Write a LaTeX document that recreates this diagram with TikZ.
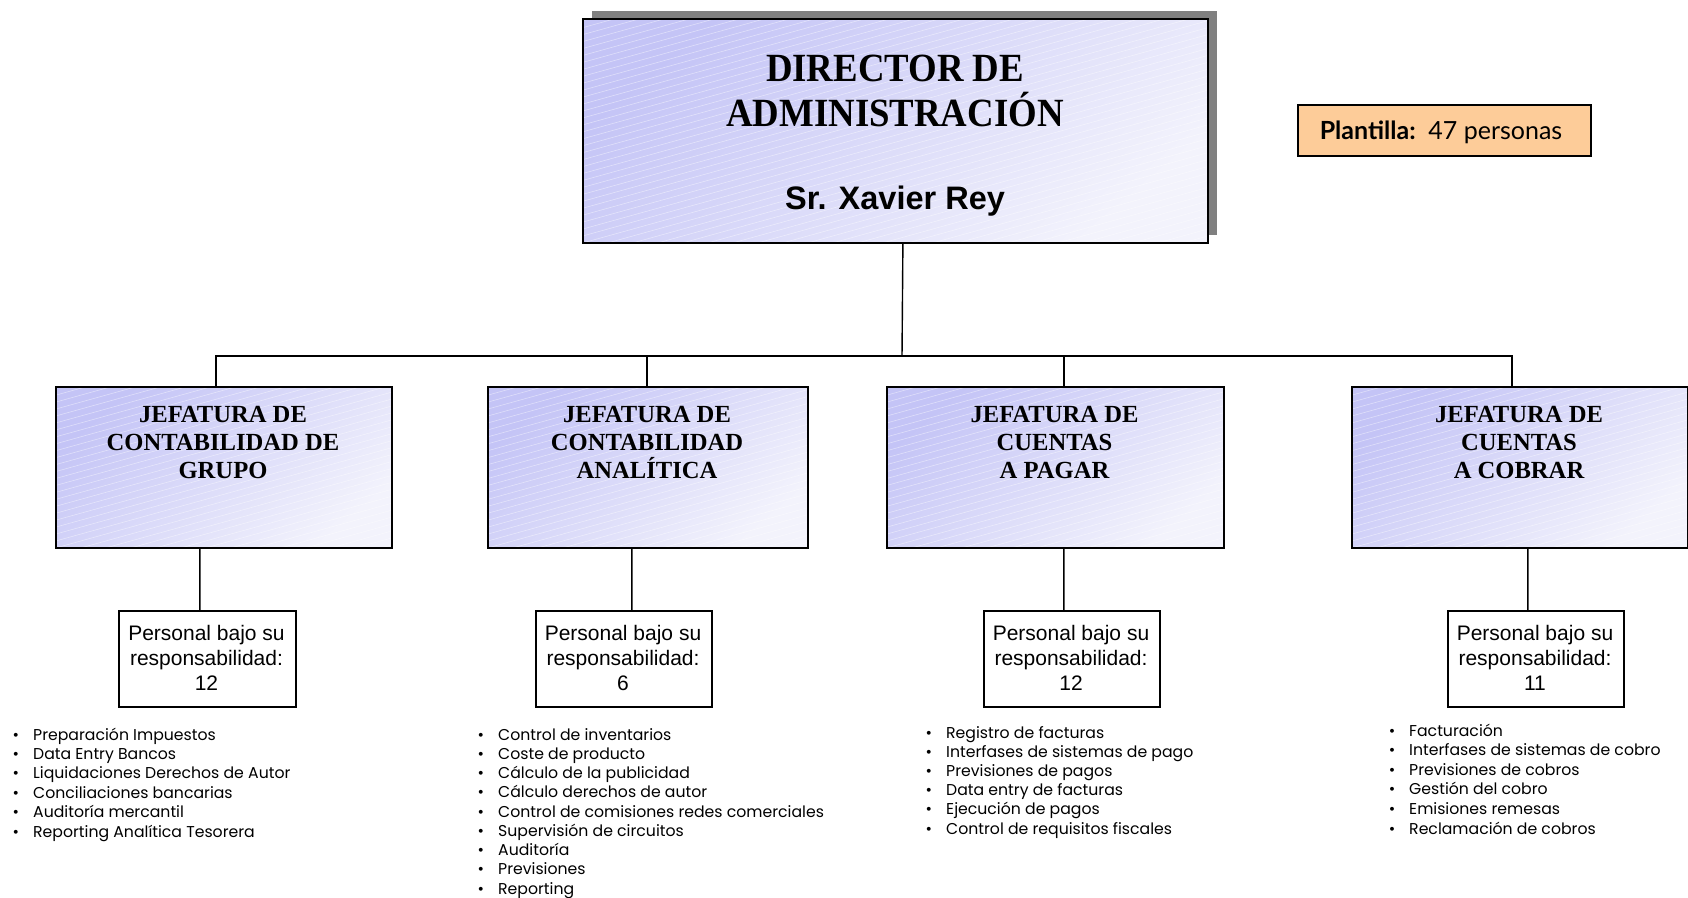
\documentclass[tikz,border=0pt]{standalone}
\usepackage{fontspec}
\usetikzlibrary{shadows}
\newfontfamily\ttlfont{Liberation Serif}[FakeStretch=0.92]
\newfontfamily\jfont{Liberation Serif}
\newfontfamily\arialfont{Liberation Sans}
\newfontfamily\gothfont{Poppins}
\newfontfamily\plfont{Lato}
\definecolor{gtop}{RGB}{196,196,246}
\definecolor{gbot}{RGB}{243,243,252}
\definecolor{peach}{RGB}{253,204,153}
\tikzset{
  stripes/.style={path picture={
    \foreach \k in {-36,...,27}{
      \draw[white, line width=0.6pt, opacity=0.45]
        (path picture bounding box.south west) ++(\k*25,0) -- ++(900,-250);
    }}},
  gbox/.style={draw=black, line width=1.8pt, shading=axis, top color=gtop,
    bottom color=gbot, shading angle=40, inner sep=0, anchor=north west, stripes},
  pbox/.style={draw=black, line width=1.6pt, fill=white, inner sep=0, anchor=north west},
  plbox/.style={draw=black, line width=1.5pt, fill=peach, inner sep=0, anchor=north west},
  conn/.style={line width=1.4pt, draw=black},
  ttl/.style={font=\ttlfont\bfseries\fontsize{40}{44}\selectfont, anchor=base, inner sep=0},
  nm/.style={font=\arialfont\bfseries\fontsize{32.5}{36}\selectfont, anchor=base, inner sep=0},
  jt/.style={font=\jfont\bfseries\fontsize{24.6}{28}\selectfont, anchor=base, inner sep=0},
  pt/.style={font=\arialfont\fontsize{21}{25}\selectfont, anchor=base, inner sep=0},
  item/.style={font=\gothfont\fontsize{15.7}{19}\selectfont, anchor=base west, inner sep=0},
  pl/.style={font=\plfont\fontsize{25}{28}\selectfont, anchor=base, inner sep=0},
}
\begin{document}
\begin{tikzpicture}[x=1pt, y=-1pt]
\useasboundingbox[fill=white] (0,0) rectangle (1688,897);

% director
\node[gbox, drop shadow={shadow xshift=9pt, shadow yshift=8pt, fill=black!50, opacity=1},
      minimum width=625pt, minimum height=224pt] (dir) at (582,18) {};
\node[ttl] (dirA) at (895,81.5) {DIRECTOR DE};
\node[ttl] (dirB) at (895,126.7) {ADMINISTRACIÓN};
\node[nm] (dirC) at (895,209) {Sr. Xavier Rey};

% plantilla
\node[plbox, minimum width=293pt, minimum height=51pt] (pl) at (1297,104) {};
\node[pl] (plt) at (1441,139) {\textbf{Plantilla:}\ \ 47 personas};

% jefaturas
\node[gbox, minimum width=336pt, minimum height=161pt] (j1) at (55,386) {};
\node[gbox, minimum width=320pt, minimum height=161pt] (j2) at (487,386) {};
\node[gbox, minimum width=337pt, minimum height=161pt] (j3) at (886,386) {};
\node[gbox, minimum width=336pt, minimum height=161pt] (j4) at (1351,386) {};

\node[jt] (j1a) at (223,422) {JEFATURA DE};
\node[jt] (j1b) at (223,450) {CONTABILIDAD DE};
\node[jt] (j1c) at (223,478) {GRUPO};
\node[jt] (j2a) at (647,422) {JEFATURA DE};
\node[jt] (j2b) at (647,450) {CONTABILIDAD};
\node[jt] (j2c) at (647,478) {ANALÍTICA};
\node[jt] (j3a) at (1054.5,422) {JEFATURA DE};
\node[jt] (j3b) at (1054.5,450) {CUENTAS};
\node[jt] (j3c) at (1054.5,478) {A PAGAR};
\node[jt] (j4a) at (1519,422) {JEFATURA DE};
\node[jt] (j4b) at (1519,450) {CUENTAS};
\node[jt] (j4c) at (1519,478) {A COBRAR};

% personal boxes
\node[pbox, minimum width=177pt, minimum height=96pt] (p1) at (118,610) {};
\node[pbox, minimum width=176pt, minimum height=96pt] (p2) at (535,610) {};
\node[pbox, minimum width=176pt, minimum height=96pt] (p3) at (983,610) {};
\node[pbox, minimum width=176pt, minimum height=96pt] (p4) at (1447,610) {};

\foreach \c/\n [count=\i] in {206.5/12, 623/6, 1071/12, 1535/11}{
  \node[pt] (p\i a) at (\c,640) {Personal bajo su};
  \node[pt] (p\i b) at (\c,665) {responsabilidad:};
  \node[pt] (p\i c) at (\c,690) {\n};
}

% connectors
\coordinate (bus) at (902,356);
\draw[conn] ([xshift=7.5pt]dir.south) -- (bus);
\draw[conn] ([xshift=-8pt]j1.north) |- (bus) -| ([xshift=-8pt]j4.north);
\draw[conn] ([xshift=-1pt]j2.north) |- (bus);
\draw[conn] ([xshift=8.5pt]j3.north) |- (bus);
\draw[conn] ([xshift=-24pt]j1.south) -- ([xshift=-7.5pt]p1.north);
\draw[conn] ([xshift=-16pt]j2.south) -- ([xshift=8pt]p2.north);
\draw[conn] ([xshift=8.5pt]j3.south) -- ([xshift=-8pt]p3.north);
\draw[conn] ([xshift=8pt]j4.south) -- ([xshift=-8pt]p4.north);

% lists
\foreach \t [count=\i] in {Preparación Impuestos, Data Entry Bancos,
  Liquidaciones Derechos de Autor, Conciliaciones bancarias,
  Auditoría mercantil, Reporting Analítica Tesorera}
  \node[item] (la\i) at (33,{740+19.4*(\i-1)}) {\llap{\textbullet\hspace{14pt}}\t};
\foreach \t [count=\i] in {Control de inventarios, Coste de producto,
  Cálculo de la publicidad, Cálculo derechos de autor,
  Control de comisiones redes comerciales, Supervisión de circuitos,
  Auditoría, Previsiones, Reporting}
  \node[item] (lb\i) at (498,{740+19.25*(\i-1)}) {\llap{\textbullet\hspace{14pt}}\t};
\foreach \t [count=\i] in {Registro de facturas, Interfases de sistemas de pago,
  Previsiones de pagos, Data entry de facturas, Ejecución de pagos,
  Control de requisitos fiscales}
  \node[item] (lc\i) at (946,{738+19.2*(\i-1)}) {\llap{\textbullet\hspace{14pt}}\t};
\foreach \t [count=\i] in {Facturación, Interfases de sistemas de cobro,
  Previsiones de cobros, Gestión del cobro, Emisiones remesas,
  Reclamación de cobros}
  \node[item] (ld\i) at (1409,{736+19.6*(\i-1)}) {\llap{\textbullet\hspace{14pt}}\t};
\end{tikzpicture}
\end{document}
